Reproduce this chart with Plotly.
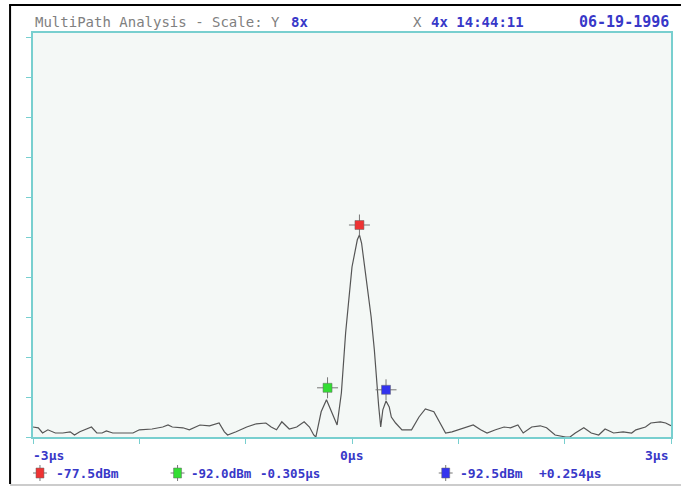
import plotly.graph_objects as go

# Delay (microseconds) and response amplitude (screen divisions)
delay_us = [-3.00, -2.95, -2.91, -2.86, -2.79, -2.72, -2.65, -2.61, -2.56, -2.51,
            -2.45, -2.40, -2.35, -2.31, -2.25, -2.16, -2.06, -2.00, -1.88, -1.78,
            -1.73, -1.69, -1.59, -1.53, -1.43, -1.34, -1.25, -1.20, -1.17, -1.09,
            -0.99, -0.90, -0.81, -0.76, -0.71, -0.66, -0.59, -0.52, -0.45, -0.40,
            -0.36, -0.34, -0.29, -0.24, -0.17, -0.14, -0.10, -0.06, -0.03, 0.00,
            0.05, 0.07, 0.09, 0.14, 0.18, 0.21, 0.23, 0.25, 0.27, 0.29,
            0.32, 0.35, 0.37, 0.41, 0.47, 0.56, 0.63, 0.69, 0.77, 0.83,
            0.88, 0.94, 1.00, 1.07, 1.14, 1.21, 1.27, 1.35, 1.43, 1.49,
            1.56, 1.61, 1.69, 1.77, 1.83, 1.91, 2.01, 2.05, 2.10, 2.18,
            2.25, 2.32, 2.38, 2.46, 2.55, 2.63, 2.67, 2.76, 2.81, 2.90,
            2.95, 3.00]
amplitude = [0.25, 0.23, 0.10, 0.18, 0.10, 0.10, 0.13, 0.05, 0.13, 0.18,
             0.25, 0.10, 0.10, 0.15, 0.10, 0.10, 0.10, 0.18, 0.20, 0.25,
             0.30, 0.25, 0.23, 0.18, 0.30, 0.28, 0.35, 0.13, 0.05, 0.13,
             0.25, 0.33, 0.35, 0.25, 0.18, 0.38, 0.20, 0.25, 0.38, 0.25,
             0.05, 0.00, 0.63, 0.93, 0.50, 0.30, 1.10, 2.60, 3.43, 4.25,
             4.93, 5.05, 4.85, 3.85, 3.00, 2.18, 1.35, 0.80, 0.25, 0.68,
             0.90, 0.75, 0.50, 0.35, 0.18, 0.18, 0.50, 0.70, 0.63, 0.35,
             0.10, 0.13, 0.18, 0.23, 0.30, 0.18, 0.10, 0.18, 0.25, 0.23,
             0.30, 0.10, 0.25, 0.28, 0.23, 0.05, 0.00, 0.00, 0.10, 0.23,
             0.10, 0.05, 0.20, 0.10, 0.13, 0.10, 0.18, 0.25, 0.35, 0.38,
             0.35, 0.28]

# Markers
marker_x = [0.07, -0.23, 0.32]
marker_y = [5.30, 1.23, 1.18]
marker_colors = ["#ee3333", "#33dd33", "#3333ee"]
marker_levels = ["-77.5dBm", "-92.0dBm", "-92.5dBm"]
marker_offsets = ["", "-0.305\u03bcs", "+0.254\u03bcs"]

title_parts = ["MultiPath Analysis - Scale: Y", "8x", "X", "4x 14:44:11", "06-19-1996"]
x_tick_labels = ["-3\u03bcs", "0\u03bcs", "3\u03bcs"]

W, H = 683, 487
L, R, T, B = 33, 10, 33, 50
PW, PH = W - L - R, H - T - B

def px(x):
    return (x - L) / PW

def py(y):
    return (H - B - y) / PH

TEAL = "#78cfcf"
BLUE = "#3838c8"
GRAY = "#808080"
FONT = "DejaVu Sans Mono"

fig = go.Figure()
fig.add_trace(go.Scatter(x=delay_us, y=amplitude, mode="lines",
                         line=dict(color="#555555", width=1.2), hoverinfo="skip"))
fig.add_trace(go.Scatter(x=marker_x, y=marker_y, mode="markers",
                         marker=dict(symbol="cross-thin", size=15,
                                     line=dict(color="#777777", width=1)),
                         hoverinfo="skip"))
fig.add_trace(go.Scatter(x=marker_x, y=marker_y, mode="markers",
                         marker=dict(symbol="square", size=9, color=marker_colors,
                                     line=dict(color="#666666", width=0.5)),
                         hoverinfo="skip"))

ann = []
def text(x, y, s, color, anchor="left", size=13):
    ann.append(dict(x=px(x), y=py(y), xref="paper", yref="paper", text=s,
                    showarrow=False, xanchor=anchor, yanchor="middle",
                    font=dict(family=FONT, size=size, color=color)))

# title
text(33, 22, title_parts[0], GRAY, size=14)
text(290, 22, "<b>" + title_parts[1] + "</b>", BLUE, size=14)
text(412, 22, title_parts[2], GRAY, size=14)
text(430, 22, "<b>" + title_parts[3] + "</b>", BLUE, size=14)
text(673, 22, "<b>" + title_parts[4] + "</b>", BLUE, anchor="right", size=15)

# x labels
text(31, 455, "<b>" + x_tick_labels[0] + "</b>", BLUE)
text(352, 455, "<b>" + x_tick_labels[1] + "</b>", BLUE, anchor="center")
text(672, 455, "<b>" + x_tick_labels[2] + "</b>", BLUE, anchor="right")

# legend row
text(54, 473, "<b>" + marker_levels[0] + "</b>", BLUE)
text(189, 473, "<b>" + marker_levels[1] + "</b>", BLUE, size=12.5)
text(259, 473, "<b>" + marker_offsets[1] + "</b>", BLUE, size=12.5)
text(459, 473, "<b>" + marker_levels[2] + "</b>", BLUE)
text(539, 473, "<b>" + marker_offsets[2] + "</b>", BLUE)

shapes = [
    dict(type="line", xref="paper", yref="paper", x0=px(9), x1=px(683), y0=py(5), y1=py(5),
         line=dict(color="black", width=2)),
    dict(type="line", xref="paper", yref="paper", x0=px(10), x1=px(10), y0=py(5), y1=py(484),
         line=dict(color="black", width=2)),
    dict(type="line", xref="paper", yref="paper", x0=px(10), x1=px(683), y0=py(485), y1=py(485),
         line=dict(color="#999999", width=1)),
]

# legend icons (small marker glyphs before the readouts)
icon_x = [40, 178, 447]
for cx, col in zip(icon_x, marker_colors):
    shapes.append(dict(type="line", xref="paper", yref="paper", x0=px(cx - 7), x1=px(cx + 7),
                       y0=py(473), y1=py(473), line=dict(color="#777777", width=1)))
    shapes.append(dict(type="line", xref="paper", yref="paper", x0=px(cx), x1=px(cx),
                       y0=py(465), y1=py(481), line=dict(color="#777777", width=1)))
    shapes.append(dict(type="rect", xref="paper", yref="paper", x0=px(cx - 4), x1=px(cx + 4),
                       y0=py(468), y1=py(478), fillcolor=col,
                       line=dict(color="#666666", width=0.5)))

fig.update_layout(
    width=W, height=H,
    margin=dict(l=L, r=R, t=T, b=B),
    paper_bgcolor="white",
    plot_bgcolor="#f4f8f6",
    showlegend=False,
    annotations=ann,
    shapes=shapes,
    xaxis=dict(range=[-3, 3], showgrid=False, zeroline=False, showline=True,
               mirror=True, linecolor=TEAL, linewidth=2, ticks="outside",
               tickcolor=TEAL, ticklen=5, tickwidth=1, dtick=1, tick0=-3,
               showticklabels=False, fixedrange=True),
    yaxis=dict(range=[0, 10.1], showgrid=False, zeroline=False, showline=True,
               mirror=True, linecolor=TEAL, linewidth=2, ticks="outside",
               tickcolor=TEAL, ticklen=5, tickwidth=1, dtick=1, tick0=0,
               showticklabels=False, fixedrange=True),
)
fig.write_html("out.html", config={"displayModeBar": False},
               post_script="document.body.style.margin='0';document.body.style.overflow='hidden';")
